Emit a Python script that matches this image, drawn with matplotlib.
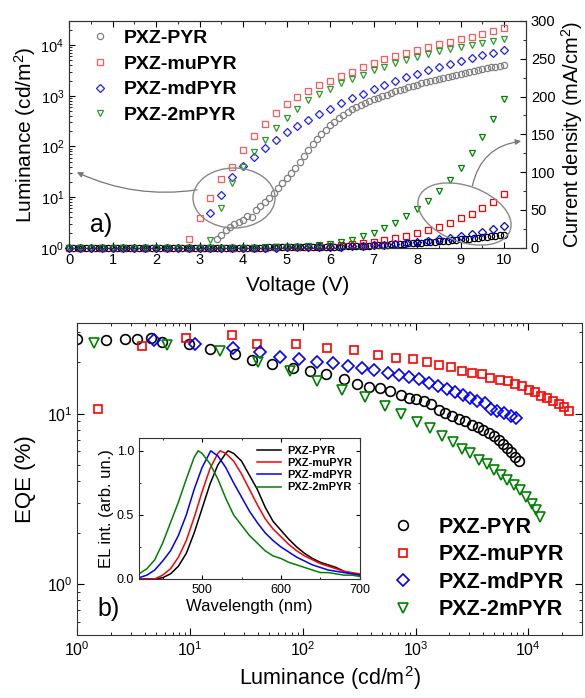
import numpy as np
import matplotlib.pyplot as plt
from matplotlib.patches import Ellipse
from matplotlib.ticker import MultipleLocator, LogLocator, NullFormatter, FixedLocator

plt.rcParams['font.family'] = ['Liberation Sans', 'DejaVu Sans']
plt.rcParams['mathtext.fontset'] = 'custom'
plt.rcParams['mathtext.rm'] = 'Liberation Sans'
plt.rcParams['mathtext.it'] = 'Liberation Sans:italic'
plt.rcParams['mathtext.bf'] = 'Liberation Sans:bold'
plt.rcParams['mathtext.default'] = 'regular'
plt.rcParams['axes.edgecolor'] = '#333333'

names = ['PXZ-PYR', 'PXZ-muPYR', 'PXZ-mdPYR', 'PXZ-2mPYR']
colors = ['black', 'red', 'blue', 'green']
lum_colors = ['#808080', '#ff5a5a', '#2020ff', '#2e9a2e']
markers = ['o', 's', 'D', 'v']

# ---- (a) luminance - voltage (left axis) ----
v_pyr_lum = np.round(np.arange(3.4, 10.01, 0.1), 2)
lum_pyr = [1.5, 1.8, 2.2, 2.6, 3.0, 3.3, 3.6, 4.3, 4.0, 5.6,
           6.6, 8.0, 9.8, 12, 15, 19, 24, 30, 38, 50,
           65, 85, 110, 140, 175, 215, 260, 310, 360, 420,
           480, 540, 600, 660, 720, 780, 850, 920, 990, 1060,
           1140, 1220, 1300, 1390, 1480, 1570, 1660, 1760, 1860, 1960,
           2060, 2170, 2280, 2390, 2500, 2620, 2740, 2860, 2980, 3100,
           3230, 3360, 3490, 3620, 3760, 3900, 4050]
v_mu_lum = np.round(np.arange(2.75, 10.01, 0.25), 2)
lum_mu = [1.5, 3.8, 9.4, 23, 40, 87, 160, 280, 460, 680,
          950, 1250, 1600, 2000, 2500, 3000, 3700, 4500, 5300, 6100,
          7000, 8000, 9200, 10300, 11500, 13000, 14500, 16500, 19000, 22000]
v_md_lum = np.round(np.arange(3.25, 10.01, 0.25), 2)
lum_md = [4.8, 11, 25, 42, 63, 93, 133, 190, 255, 340,
          440, 560, 710, 890, 1100, 1340, 1600, 1950, 2300, 2640,
          3160, 3630, 4270, 4800, 5500, 6300, 7100, 8000]
v_2m_lum = np.round(np.arange(3.25, 10.01, 0.25), 2)
lum_2m = [1.4, 6.1, 19, 40, 78, 132, 230, 360, 540, 810,
          1070, 1380, 1750, 2170, 2600, 3160, 3720, 4500, 5000, 5900,
          6700, 7600, 8500, 9100, 10100, 11200, 12000, 13000]

# ---- (a) current density - voltage (right axis) ----
v_pyr_j = np.round(np.arange(0, 10.01, 0.1), 2)
j_pyr = [0.0] * 40 + [
    0.2, 0.2, 0.25, 0.3, 0.3, 0.35, 0.4, 0.45, 0.5, 0.55,
    0.6, 0.65, 0.7, 0.75, 0.8, 0.9, 1.0, 1.1, 1.2, 1.3,
    1.5, 1.6, 1.7, 1.8, 1.9, 2.0, 2.2, 2.4, 2.6, 2.8,
    3.2, 3.5, 3.8, 4.1, 4.4, 4.7, 5.0, 5.3, 5.7, 6.1,
    6.5, 6.9, 7.3, 7.7, 8.1, 8.5, 9.0, 9.5, 10.0, 10.5,
    11.0, 11.5, 12.0, 12.6, 13.2, 13.8, 14.4, 15.0, 15.6, 16.3,
    17.0]
v_j = np.round(np.arange(0, 10.01, 0.25), 2)
j_mu = [0.0] * 19 + [0.5, 0.8, 1.0, 1.5, 2.0, 2.5, 3.5, 5, 6.5, 8, 10, 13,
                     16, 20, 23, 28, 33, 39, 45, 53, 61, 71]
j_md = [0.0] * 20 + [0.5, 0.7, 0.9, 1.1, 1.4, 1.7, 2.0, 2.5, 3.2, 4, 5, 6,
                     7.5, 9, 11, 13, 15, 18, 21, 25, 29]
j_2m = [0.0] * 17 + [0.3, 0.5, 0.8, 1.0, 1.5, 2.5, 3.5, 5.5, 8, 10.5, 15, 20,
                     26, 33, 42, 51, 62, 75, 89, 106, 125, 146, 170, 197]

# ---- (b) EQE - luminance ----
L_pyr = [1.0, 1.8, 2.63, 3.39, 4.55, 5.66, 9.8, 15.2, 25.3, 35.3, 53.8, 82, 116,
         162, 230, 302, 390, 486, 593, 742, 881, 1020, 1180, 1370, 1600, 1830,
         2100, 2420, 2760, 3150, 3560, 4000, 4450, 4950, 5480, 6000, 6500, 7060,
         7650, 8200]
eqe_pyr = [27.5, 27.1, 27.6, 27.6, 27.8, 26.5, 25.6, 24.1, 22.3, 20.8, 19.7, 18.5,
           17.7, 17.1, 16.0, 14.9, 14.4, 14.1, 13.6, 12.9, 12.3, 12.2, 11.8, 11.4,
           10.5, 10.1, 9.7, 9.3, 9.0, 8.6, 8.3, 8.0, 7.7, 7.4, 7.0, 6.65, 6.3,
           5.94, 5.6, 5.29]
L_mu = [1.53, 3.76, 9.3, 23.7, 39.5, 86.7, 163, 282, 461, 671, 944, 1260, 1610,
        2070, 2590, 3180, 3870, 4620, 5560, 6600, 7650, 8850, 10100, 11500, 13000,
        14800, 16700, 18700, 20800, 23000]
eqe_mu = [10.6, 25.0, 27.7, 29.0, 25.8, 25.6, 24.2, 23.6, 22.0, 21.2, 20.9, 20.1,
          19.4, 18.8, 17.8, 17.4, 17.1, 16.3, 15.8, 15.5, 14.9, 14.5, 13.8, 13.4,
          12.7, 12.3, 11.9, 11.4, 10.9, 10.3]
L_md = [4.77, 11.0, 24.2, 41.5, 63, 93, 135, 186, 253, 334, 430, 566, 708, 870,
        1070, 1310, 1570, 1910, 2260, 2630, 3070, 3520, 4170, 4690, 5300, 6030,
        6970, 7820]
eqe_md = [27.0, 25.6, 24.4, 23.0, 21.6, 20.9, 20.2, 19.8, 19.1, 18.5, 18.1, 17.4,
          16.9, 16.5, 16.0, 15.2, 14.6, 13.9, 13.4, 12.9, 12.3, 11.9, 11.5, 10.6,
          10.3, 10.1, 9.7, 9.44]
L_2m = [1.4, 6.27, 18.3, 40, 77, 135, 225, 358, 540, 743, 1025, 1345, 1710, 2140,
        2570, 3070, 3690, 4290, 4950, 5760, 6500, 7400, 8500, 9600, 10860, 11800,
        12600]
eqe_2m = [26.1, 25.3, 23.3, 20.0, 17.8, 15.6, 13.8, 12.5, 11.1, 9.95, 8.9, 8.25,
          7.43, 6.86, 6.16, 5.86, 5.31, 5.03, 4.64, 4.38, 4.09, 3.79, 3.55, 3.24,
          2.96, 2.71, 2.48]

# ---- inset: EL spectra ----
wl_pyr = [420, 430, 440, 450, 460, 470, 480, 490, 500, 510, 520, 530, 533, 540, 550,
          560, 570, 580, 590, 600, 610, 620, 630, 640, 650, 660, 670, 680, 690, 700]
el_pyr = [0.0, 0.0, 0.0, 0.01, 0.04, 0.1, 0.2, 0.36, 0.55, 0.74, 0.89, 0.98, 1.0,
          0.98, 0.92, 0.81, 0.7, 0.56, 0.45, 0.38, 0.31, 0.25, 0.2, 0.16, 0.13,
          0.11, 0.09, 0.06, 0.04, 0.03]
wl_mu = [420, 430, 440, 450, 460, 470, 480, 490, 500, 510, 520, 523, 530, 540, 550,
         560, 570, 580, 590, 600, 610, 620, 630, 640, 650, 660, 670, 680, 690, 700]
el_mu = [0.0, 0.0, 0.0, 0.03, 0.08, 0.17, 0.3, 0.48, 0.68, 0.86, 0.98, 1.0, 0.98,
         0.92, 0.82, 0.7, 0.58, 0.47, 0.39, 0.33, 0.27, 0.22, 0.18, 0.15, 0.12,
         0.1, 0.08, 0.06, 0.05, 0.04]
wl_md = [420, 430, 440, 450, 460, 470, 480, 490, 500, 511, 520, 530, 540, 550,
         560, 570, 580, 590, 600, 610, 620, 630, 640, 650, 660, 670, 680, 690, 700]
el_md = [0.01, 0.03, 0.07, 0.14, 0.22, 0.34, 0.5, 0.7, 0.87, 1.0, 0.96, 0.87, 0.75,
         0.64, 0.53, 0.44, 0.36, 0.3, 0.25, 0.21, 0.17, 0.14, 0.11, 0.09, 0.07,
         0.06, 0.05, 0.04, 0.03]
wl_2m = [420, 430, 440, 450, 460, 470, 480, 490, 495, 500, 510, 520, 530, 540, 550,
         560, 570, 580, 590, 600, 610, 620, 630, 640, 650, 660, 670, 680, 690, 700]
el_2m = [0.04, 0.08, 0.15, 0.28, 0.44, 0.6, 0.78, 0.95, 1.0, 0.98, 0.9, 0.78, 0.63,
         0.5, 0.42, 0.34, 0.28, 0.22, 0.18, 0.16, 0.13, 0.11, 0.09, 0.07, 0.05,
         0.05, 0.04, 0.03, 0.03, 0.02]

fig = plt.figure(figsize=(5.85, 6.98), dpi=100)

# ================= panel a =================
ax1 = fig.add_axes([0.118, 0.645, 0.781, 0.325])
ax2 = ax1.twinx()

lum_v = [v_pyr_lum, v_mu_lum, v_md_lum, v_2m_lum]
lum_y = [lum_pyr, lum_mu, lum_md, lum_2m]
for i in range(4):
    ax1.plot(lum_v[i], lum_y[i], linestyle='none', marker=markers[i], ms=4.5 if i != 2 else 4.2,
             mfc='none', mec=lum_colors[i], mew=0.9, label=names[i])

j_v = [v_pyr_j, v_j, v_j, v_j]
j_y = [j_pyr, j_mu, j_md, j_2m]
for i in range(4):
    ax2.plot(j_v[i], j_y[i], linestyle='none', marker=markers[i], ms=4.5 if i != 2 else 4.2,
             mfc='none', mec=colors[i], mew=0.9, clip_on=False)

ax1.set_yscale('log')
ax1.set_xlim(0, 10.5)
ax1.set_ylim(1, 3e4)
ax1.set_xticks(range(0, 11))
ax1.xaxis.set_minor_locator(MultipleLocator(0.5))
ax1.yaxis.set_major_locator(FixedLocator([1, 10, 100, 1000, 10000]))
ax1.yaxis.set_minor_locator(LogLocator(base=10, subs=np.arange(2, 10)))
ax1.yaxis.set_minor_formatter(NullFormatter())
ax2.set_ylim(0, 300)
ax2.yaxis.set_major_locator(MultipleLocator(50))
ax2.yaxis.set_minor_locator(MultipleLocator(25))

ax1.tick_params(which='both', direction='in', top=True, labelsize=10.5)
ax1.tick_params(which='major', length=4)
ax1.tick_params(which='minor', length=2)
ax2.tick_params(which='both', direction='in', labelsize=10.5)
ax2.tick_params(which='major', length=4)
ax2.tick_params(which='minor', length=2)

ax1.set_xlabel('Voltage (V)', fontsize=15, labelpad=7)
ax1.set_ylabel('Luminance (cd/m$^2$)', fontsize=15, labelpad=2)
ax2.set_ylabel('Current density (mA/cm$^2$)', fontsize=14.5, labelpad=3)

ax1.legend(loc='upper left', bbox_to_anchor=(0.02, 1.015), frameon=False,
           prop={'weight': 'bold', 'size': 14}, handlelength=1.0, handletextpad=0.75,
           labelspacing=0.42, borderaxespad=0.2)
ax1.text(0.045, 0.07, 'a)', transform=ax1.transAxes, fontsize=18)

# ellipses and arrows
fig.add_artist(Ellipse((2.34, 5.0), 0.82, 0.60, angle=0, transform=fig.dpi_scale_trans,
                       fill=False, ec='#888888', lw=1.0))
fig.add_artist(Ellipse((4.645, 4.84), 0.97, 0.56, angle=-20, transform=fig.dpi_scale_trans,
                       fill=False, ec='#888888', lw=1.0))
ax1.annotate('', xy=(0.18, 31), xytext=(2.94, 13.9),
             arrowprops=dict(arrowstyle='-|>', color='#777777', lw=0.9,
                             mutation_scale=8, shrinkA=0, shrinkB=0,
                             connectionstyle='arc3,rad=-0.15'))
ax2.annotate('', xy=(10.39, 141), xytext=(9.27, 82),
             arrowprops=dict(arrowstyle='-|>', color='#777777', lw=0.9,
                             mutation_scale=8, shrinkA=0, shrinkB=0,
                             connectionstyle='arc3,rad=-0.35'),
             annotation_clip=False)

# ================= panel b =================
ax3 = fig.add_axes([0.132, 0.090, 0.863, 0.447])
L_all = [L_pyr, L_mu, L_md, L_2m]
E_all = [eqe_pyr, eqe_mu, eqe_md, eqe_2m]
msz = [7, 6, 6.5, 6.5]
for i in range(4):
    ax3.plot(L_all[i], E_all[i], linestyle='none', marker=markers[i], ms=msz[i],
             mfc='none', mec=colors[i], mew=1.2, label=names[i])
ax3.set_xscale('log')
ax3.set_yscale('log')
ax3.set_xlim(1, 3e4)
ax3.set_ylim(0.5, 34)
ax3.xaxis.set_major_locator(FixedLocator([1, 10, 100, 1000, 10000]))
ax3.xaxis.set_minor_locator(LogLocator(base=10, subs=np.arange(2, 10)))
ax3.xaxis.set_minor_formatter(NullFormatter())
ax3.yaxis.set_major_locator(FixedLocator([1, 10]))
ax3.yaxis.set_minor_locator(LogLocator(base=10, subs=np.arange(2, 10)))
ax3.yaxis.set_minor_formatter(NullFormatter())
ax3.tick_params(which='both', direction='in', top=True, right=True, labelsize=11.5)
ax3.tick_params(which='major', length=5)
ax3.tick_params(which='minor', length=2.5)
ax3.set_xlabel('Luminance (cd/m$^2$)', fontsize=15.5, labelpad=4)
ax3.set_ylabel('EQE (%)', fontsize=16, labelpad=8)
ax3.legend(loc='lower right', bbox_to_anchor=(0.995, 0.0), frameon=False,
           prop={'weight': 'bold', 'size': 15.5}, handlelength=1.0, handletextpad=1.2,
           labelspacing=0.3, borderaxespad=0.3)
ax3.text(0.04, 0.06, 'b)', transform=ax3.transAxes, fontsize=18)

# ================= inset =================
ax4 = fig.add_axes([0.2376, 0.1705, 0.3774, 0.202])
wl_all = [wl_pyr, wl_mu, wl_md, wl_2m]
el_all = [el_pyr, el_mu, el_md, el_2m]
for i in range(4):
    ax4.plot(wl_all[i], el_all[i], color=colors[i], lw=1.1, label=names[i])
ax4.set_xlim(420, 700)
ax4.set_ylim(0, 1.1)
ax4.set_xticks([500, 600, 700])
ax4.xaxis.set_minor_locator(MultipleLocator(50))
ax4.set_yticks([0.0, 0.5, 1.0])
ax4.yaxis.set_minor_locator(MultipleLocator(0.25))
ax4.tick_params(which='both', direction='in', top=True, right=True, labelsize=9)
ax4.tick_params(which='major', length=3)
ax4.tick_params(which='minor', length=1.5)
ax4.set_xlabel('Wavelength (nm)', fontsize=12, labelpad=2)
ax4.set_ylabel('EL int. (arb. un.)', fontsize=12, labelpad=2)
ax4.legend(loc='upper right', frameon=False, prop={'weight': 'bold', 'size': 8},
           handlelength=2.2, handletextpad=0.5, labelspacing=0.2, borderaxespad=0.3)

fig.savefig('out.png', dpi=100)
